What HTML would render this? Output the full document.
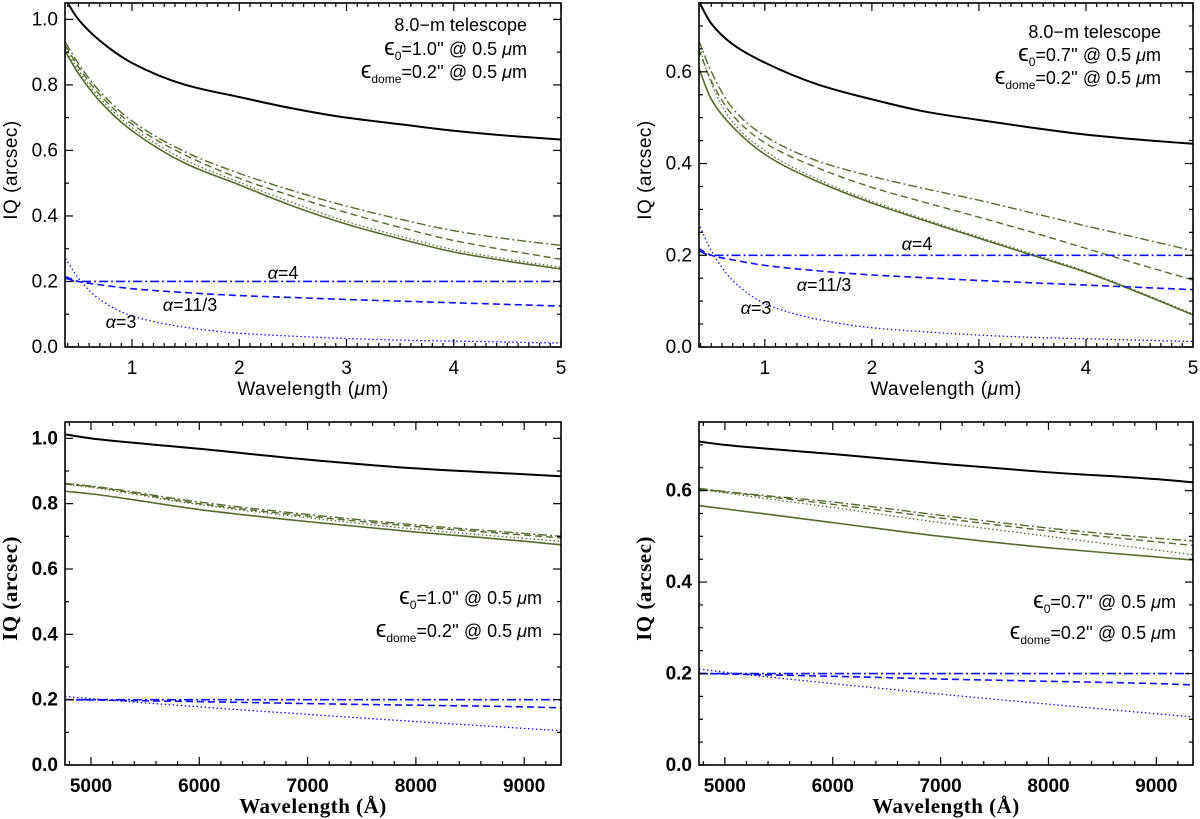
<!DOCTYPE html>
<html><head><meta charset="utf-8"><style>
html,body{margin:0;padding:0;background:#fff;}
svg{display:block;}
</style></head><body>
<svg id="fig" width="1200" height="819" viewBox="0 0 1200 819" xmlns="http://www.w3.org/2000/svg"></svg>
<script>
// ---- data ----
const lamUm = [0.38,0.5,0.7,1,1.5,2,2.5,3,3.5,4,4.5,5];
const lamA = [4760,5000,6000,7000,8000,9000,9340];
const topTicksX = ["1","2","3","4","5"];
const topTickVals = [1,2,3,4,5];
const botTicksX = ["5000","6000","7000","8000","9000"];
const botTickVals = [5000,6000,7000,8000,9000];
const yTicksA = ["0.0","0.2","0.4","0.6","0.8","1.0"];
const yTickValsA = [0,0.2,0.4,0.6,0.8,1.0];
const yTicksB = ["0.0","0.2","0.4","0.6"];
const yTickValsB = [0,0.2,0.4,0.6];

const tlBlack=[1.06,1.0,0.935,0.867,0.80,0.763,0.728,0.70,0.68,0.66,0.645,0.633];
const tlGSolid=[0.90,0.835,0.75,0.66,0.56,0.495,0.43,0.375,0.33,0.29,0.262,0.238];
const tlGDot=[0.91,0.845,0.76,0.67,0.57,0.503,0.44,0.383,0.338,0.297,0.268,0.243];
const tlGDash=[0.92,0.855,0.77,0.68,0.585,0.515,0.46,0.41,0.365,0.325,0.295,0.268];
const tlGDashDot=[0.93,0.865,0.78,0.69,0.595,0.53,0.477,0.43,0.39,0.355,0.33,0.31];
const trBlack=[0.755,0.705,0.66,0.62,0.572,0.54,0.513,0.495,0.478,0.463,0.452,0.443];
const trGSolid=[0.61,0.54,0.48,0.42,0.36,0.314,0.275,0.237,0.20,0.163,0.118,0.07];
const trGDot=[0.66,0.575,0.49,0.428,0.365,0.318,0.278,0.24,0.203,0.165,0.12,0.072];
const trGDash=[0.65,0.58,0.505,0.445,0.39,0.348,0.315,0.283,0.25,0.215,0.18,0.146];
const trGDashDot=[0.67,0.60,0.52,0.46,0.405,0.372,0.345,0.32,0.292,0.264,0.237,0.21];
const topBlue4=[0.21,0.2,0.2,0.2,0.2,0.2,0.2,0.2,0.2,0.2,0.2,0.2];
const topBlue113=[0.215,0.2,0.19,0.178,0.166,0.157,0.151,0.145,0.14,0.135,0.13,0.125];
const topBlue3=[0.27,0.21,0.145,0.095,0.06,0.042,0.033,0.026,0.021,0.018,0.015,0.012];

const blBlack=[1.012,1.0,0.968,0.935,0.908,0.89,0.884];
const blGSolid=[0.838,0.83,0.782,0.745,0.713,0.685,0.674];
const blGDot=[0.86,0.85,0.797,0.757,0.722,0.694,0.685];
const blGDash=[0.86,0.852,0.80,0.762,0.73,0.704,0.695];
const blGDashDot=[0.862,0.854,0.805,0.767,0.735,0.709,0.70];
const brBlack=[0.707,0.70,0.68,0.659,0.64,0.625,0.618];
const brGSolid=[0.567,0.56,0.53,0.50,0.475,0.455,0.448];
const brGDot=[0.603,0.595,0.563,0.53,0.50,0.47,0.46];
const brGDash=[0.603,0.597,0.57,0.54,0.512,0.488,0.48];
const brGDashDot=[0.605,0.598,0.575,0.546,0.518,0.496,0.49];
const botBlue4=[0.2,0.2,0.2,0.2,0.2,0.2,0.2];
const botBlue113=[0.2,0.199,0.194,0.188,0.183,0.178,0.175];
const botBlue3=[0.21,0.203,0.178,0.155,0.133,0.112,0.105];

// ---- drawing ----
const NS="http://www.w3.org/2000/svg";
const svg=document.getElementById('fig');
function mk(tag,attrs,parent){const e=document.createElementNS(NS,tag);for(const k in attrs)e.setAttribute(k,attrs[k]);(parent||svg).appendChild(e);return e;}
const GREEN="#556b2f", BLUE="#1010ff";
const STY={ solid:"", dot:"1.5,2.5", dash:"7,4", dashdot:"9,3,2,3" };
function smoothPath(pts){
 const n=pts.length, h=[], s=[], m=new Array(n);
 for(let i=0;i<n-1;i++){h[i]=pts[i+1][0]-pts[i][0];s[i]=(pts[i+1][1]-pts[i][1])/h[i];}
 m[0]=s[0];m[n-1]=s[n-2];
 for(let i=1;i<n-1;i++){
  if(s[i-1]*s[i]<=0)m[i]=0;
  else{const w1=2*h[i]+h[i-1],w2=h[i]+2*h[i-1];m[i]=(w1+w2)/(w1/s[i-1]+w2/s[i]);}
 }
 let d="M"+pts[0][0].toFixed(2)+","+pts[0][1].toFixed(2);
 for(let i=0;i<n-1;i++){
  const p1=pts[i],p2=pts[i+1],dx=h[i]/3;
  d+=" C"+(p1[0]+dx).toFixed(2)+","+(p1[1]+m[i]*dx).toFixed(2)+" "+(p2[0]-dx).toFixed(2)+","+(p2[1]-m[i+1]*dx).toFixed(2)+" "+p2[0].toFixed(2)+","+p2[1].toFixed(2);
 }
 return d;
}
function panel(cfg){
 const g=mk('g',{});
 
 
 const {x0,x1,y0,y1,xmin,xmax,ymin,ymax}=cfg;
 const sx=v=>x0+(v-xmin)/(xmax-xmin)*(x1-x0);
 const sy=v=>y1-(v-ymin)/(ymax-ymin)*(y1-y0);
 const cid="clip-"+cfg.name;
 const cp=mk('clipPath',{id:cid},g);
 mk('rect',{x:x0,y:y0,width:x1-x0,height:y1-y0},cp);
 const sg=mk('g',{'clip-path':'url(#'+cid+')'},g);
 cfg.series.forEach(s=>{
  const pts=s.v.map((v,i)=>[sx(cfg.xs[i]),sy(v)]);
  const p=mk('path',{d:smoothPath(pts),fill:'none',stroke:s.c,'stroke-width':s.w,'stroke-dasharray':STY[s.st]},sg);
  
  
 });
 const fr=mk('rect',{x:x0,y:y0,width:x1-x0,height:y1-y0,fill:'none',stroke:'#000','stroke-width':1.6},g);
 
 
 for(let k=Math.ceil(xmin/cfg.xminor); k*cfg.xminor<=xmax+1e-9; k++){
  const v=k*cfg.xminor, X=sx(v);
  const major=Math.abs(v/cfg.xmajor-Math.round(v/cfg.xmajor))<1e-6;
  const L=major?8:4;
  mk('line',{x1:X,y1:y1,x2:X,y2:y1-L,stroke:'#000','stroke-width':1.2},g);
  mk('line',{x1:X,y1:y0,x2:X,y2:y0+L,stroke:'#000','stroke-width':1.2},g);
 }
 for(let k=0; ymin+k*cfg.yminor<=ymax+1e-9; k++){
  const v=ymin+k*cfg.yminor, Y=sy(v);
  const major=Math.abs(v/cfg.ymajor-Math.round(v/cfg.ymajor))<1e-6;
  const L=major?8:4;
  mk('line',{x1:x0,y1:Y,x2:x0+L,y2:Y,stroke:'#000','stroke-width':1.2},g);
  mk('line',{x1:x1,y1:Y,x2:x1-L,y2:Y,stroke:'#000','stroke-width':1.2},g);
 }
 const tf=cfg.bold?'font-weight:bold;':'';
 cfg.xtv.forEach((v,i)=>{
  const t=mk('text',{x:sx(v),y:y1+27,'text-anchor':'middle','font-size':19,style:'font-family:"Liberation Sans",sans-serif;'+tf},g);
  t.textContent=cfg.xtl[i];
  
  
 });
 cfg.ytv.forEach((v,i)=>{
  const t=mk('text',{x:x0-7,y:sy(v)+6,'text-anchor':'end','font-size':19,style:'font-family:"Liberation Sans",sans-serif;'+tf},g);
  t.textContent=cfg.ytl[i];
  
  
 });
 const ff=cfg.bold?'font-family:"Liberation Serif",serif;font-weight:bold;':'font-family:"Liberation Sans",sans-serif;';
 const xt=mk('text',{x:(x0+x1)/2,y:y1+48,'text-anchor':'middle','font-size':cfg.bold?21:19,style:ff+'letter-spacing:0.5px;'},g);
 xt.innerHTML=cfg.xtitle;
 
 
 const yc=(y0+y1)/2-5, yx=x0-48;
 const yt=mk('text',{x:yx,y:yc,'text-anchor':'middle','font-size':cfg.bold?21:19,transform:'rotate(-90 '+yx+' '+yc+')',style:ff+'letter-spacing:0.5px;'},g);
 yt.textContent="IQ (arcsec)";
 
 
 cfg.notes.forEach(nt=>{
  const t=mk('text',{x:nt.x,y:nt.y,'text-anchor':nt.a||'end','font-size':nt.fs||18,style:'font-family:"Liberation Sans","DejaVu Sans",sans-serif;'},g);
  t.innerHTML=nt.h;
  
  
 });
}
function topSeries(b,gs,gd,gda,gdd){
 return [
  {n:'total-iq-line',v:b,c:'#000',w:2,st:'solid'},
  {n:'green-solid-line',v:gs,c:GREEN,w:1.6,st:'solid'},
  {n:'green-dotted-line',v:gd,c:GREEN,w:1.3,st:'dot'},
  {n:'green-dashed-line',v:gda,c:GREEN,w:1.4,st:'dash'},
  {n:'green-dashdot-line',v:gdd,c:GREEN,w:1.4,st:'dashdot'}
 ];
}
const eps0=v=>'<tspan font-size="24">ϵ</tspan><tspan font-size="12" dy="5">0</tspan><tspan dy="-5">='+v+'\'\' @ 0.5 </tspan><tspan font-style="italic">μ</tspan>m';
const epsD='<tspan font-size="24">ϵ</tspan><tspan font-size="12" dy="5">dome</tspan><tspan dy="-5">=0.2\'\' @ 0.5 </tspan><tspan font-style="italic">μ</tspan>m';
const alpha=s=>'<tspan font-style="italic">α</tspan>='+s;
const muTitle='Wavelength (<tspan font-style="italic">μ</tspan>m)';

panel({name:'panel-top-left',x0:65,x1:561,y0:3,y1:347,xmin:0.375,xmax:5,ymin:0,ymax:1.05,
 xmajor:1,xminor:0.1,ymajor:0.2,yminor:0.1,xs:lamUm,xtv:topTickVals,xtl:topTicksX,ytv:yTickValsA,ytl:yTicksA,
 xtitle:muTitle,bold:false,
 series:topSeries(tlBlack,tlGSolid,tlGDot,tlGDash,tlGDashDot).concat([
  {n:'alpha-4-line',v:topBlue4,c:BLUE,w:1.6,st:'dashdot'},
  {n:'alpha-11-3-line',v:topBlue113,c:BLUE,w:1.6,st:'dash'},
  {n:'alpha-3-line',v:topBlue3,c:BLUE,w:1.3,st:'dot'}]),
 notes:[{x:527,y:31,h:'8.0−m telescope',n:'telescope-label'},{x:527,y:55,h:eps0('1.0'),n:'seeing-label'},{x:527,y:78,h:epsD,n:'dome-seeing-label'},
  {x:283,y:279,h:alpha('4'),a:'middle',n:'alpha-4-label'},{x:190,y:311,h:alpha('11/3'),a:'middle',n:'alpha-11-3-label'},{x:121,y:328,h:alpha('3'),a:'middle',n:'alpha-3-label'}]
});
panel({name:'panel-top-right',x0:699,x1:1193,y0:3,y1:347,xmin:0.385,xmax:5,ymin:0,ymax:0.75,
 xmajor:1,xminor:0.1,ymajor:0.2,yminor:0.05,xs:lamUm,xtv:topTickVals,xtl:topTicksX,ytv:yTickValsB,ytl:yTicksB,
 xtitle:muTitle,bold:false,
 series:topSeries(trBlack,trGSolid,trGDot,trGDash,trGDashDot).concat([
  {n:'alpha-4-line',v:topBlue4,c:BLUE,w:1.6,st:'dashdot'},
  {n:'alpha-11-3-line',v:topBlue113,c:BLUE,w:1.6,st:'dash'},
  {n:'alpha-3-line',v:topBlue3,c:BLUE,w:1.3,st:'dot'}]),
 notes:[{x:1161,y:38,h:'8.0−m telescope',n:'telescope-label'},{x:1161,y:61,h:eps0('0.7'),n:'seeing-label'},{x:1161,y:84,h:epsD,n:'dome-seeing-label'},
  {x:917,y:250,h:alpha('4'),a:'middle',n:'alpha-4-label'},{x:824,y:291,h:alpha('11/3'),a:'middle',n:'alpha-11-3-label'},{x:756,y:314,h:alpha('3'),a:'middle',n:'alpha-3-label'}]
});
panel({name:'panel-bottom-left',x0:65,x1:561,y0:422,y1:765,xmin:4760,xmax:9340,ymin:0,ymax:1.05,
 xmajor:1000,xminor:200,ymajor:0.2,yminor:0.1,xs:lamA,xtv:botTickVals,xtl:botTicksX,ytv:yTickValsA,ytl:yTicksA,
 xtitle:'Wavelength (Å)',bold:true,
 series:topSeries(blBlack,blGSolid,blGDot,blGDash,blGDashDot).concat([
  {n:'alpha-4-line',v:botBlue4,c:BLUE,w:1.6,st:'dashdot'},
  {n:'alpha-11-3-line',v:botBlue113,c:BLUE,w:1.6,st:'dash'},
  {n:'alpha-3-line',v:botBlue3,c:BLUE,w:1.3,st:'dot'}]),
 notes:[{x:542,y:604,h:eps0('1.0'),n:'seeing-label'},{x:542,y:637,h:epsD,n:'dome-seeing-label'}]
});
panel({name:'panel-bottom-right',x0:699,x1:1193,y0:422,y1:765,xmin:4760,xmax:9340,ymin:0,ymax:0.75,
 xmajor:1000,xminor:200,ymajor:0.2,yminor:0.05,xs:lamA,xtv:botTickVals,xtl:botTicksX,ytv:yTickValsB,ytl:yTicksB,
 xtitle:'Wavelength (Å)',bold:true,
 series:topSeries(brBlack,brGSolid,brGDot,brGDash,brGDashDot).concat([
  {n:'alpha-4-line',v:botBlue4,c:BLUE,w:1.6,st:'dashdot'},
  {n:'alpha-11-3-line',v:botBlue113,c:BLUE,w:1.6,st:'dash'},
  {n:'alpha-3-line',v:botBlue3,c:BLUE,w:1.3,st:'dot'}]),
 notes:[{x:1176,y:608,h:eps0('0.7'),n:'seeing-label'},{x:1176,y:639,h:epsD,n:'dome-seeing-label'}]
});
</script>
</body></html>
